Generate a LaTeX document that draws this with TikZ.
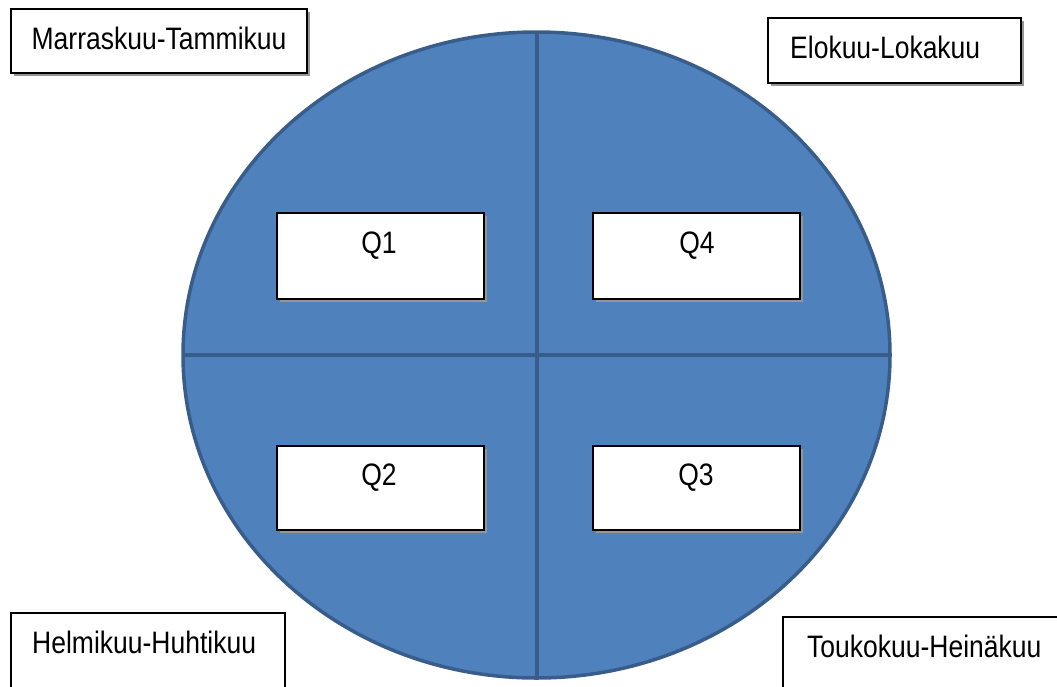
\documentclass[tikz,border=0pt]{standalone}
\usepackage{fontspec}
\setmainfont{Liberation Sans}
\definecolor{pieblue}{RGB}{79,129,189}
\definecolor{pieedge}{RGB}{56,93,138}
\definecolor{shade}{RGB}{150,150,150}
\newcommand{\lbltxt}[1]{\scalebox{1}[1.17]{\fontsize{26.5}{30}\selectfont #1}}
\begin{document}
\begin{tikzpicture}[x=1pt,y=-1pt,
  labelbox/.style={draw=black,line width=2.2pt,fill=white},
  shadowbox/.style={fill=shade,draw=none},
  txt/.style={inner sep=0pt,anchor=base},
  txtw/.style={inner sep=0pt,anchor=base west}]
\useasboundingbox (0,0) rectangle (1057,686);
\clip (0,0) rectangle (1057,686);
% circle
\draw[fill=pieblue,draw=pieedge,line width=3.5pt] (536.5,355) ellipse [x radius=353.5,y radius=323];
\coordinate (ctop) at (537,32);
\coordinate (cbot) at (537,678);
\coordinate (cleft) at (183,355);
\coordinate (cright) at (890,355);
\draw[draw=pieedge,line width=4.5pt] (ctop) -- (cbot);
\draw[draw=pieedge,line width=4.5pt] (cleft) -- (cright);
% quarter boxes
\fill[shadowbox] (280,216) rectangle (487,302);
\draw[labelbox] (277,213) rectangle (484,299);
\node[txt] (q1) at (379,253) {\lbltxt{Q1}};
\fill[shadowbox] (596,216) rectangle (803,302);
\draw[labelbox] (593,213) rectangle (800,299);
\node[txt] (q4) at (697,253) {\lbltxt{Q4}};
\fill[shadowbox] (280,449) rectangle (487,533);
\draw[labelbox] (277,446) rectangle (484,530);
\node[txt] (q2) at (379,485) {\lbltxt{Q2}};
\fill[shadowbox] (596,449) rectangle (803,533);
\draw[labelbox] (593,446) rectangle (800,530);
\node[txt] (q3) at (696,485) {\lbltxt{Q3}};
% month boxes
\fill[shadowbox] (14,12) rectangle (310,76);
\draw[labelbox] (11,9) rectangle (307,73);
\node[txt] (m1) at (159,49) {\lbltxt{Marraskuu-Tammikuu}};
\fill[shadowbox] (771,21) rectangle (1024,86);
\draw[labelbox] (768,18) rectangle (1021,83);
\node[txtw] (m4) at (790,58) {\lbltxt{Elokuu-Lokakuu}};
\draw[labelbox] (11,613) rectangle (285,700);
\node[txtw] (m2) at (32,653) {\lbltxt{Helmikuu-Huhtikuu}};
\draw[labelbox] (783,617) rectangle (1070,700);
\node[txtw] (m3) at (807,657) {\lbltxt{Toukokuu-Heinäkuu}};
\end{tikzpicture}
\end{document}
